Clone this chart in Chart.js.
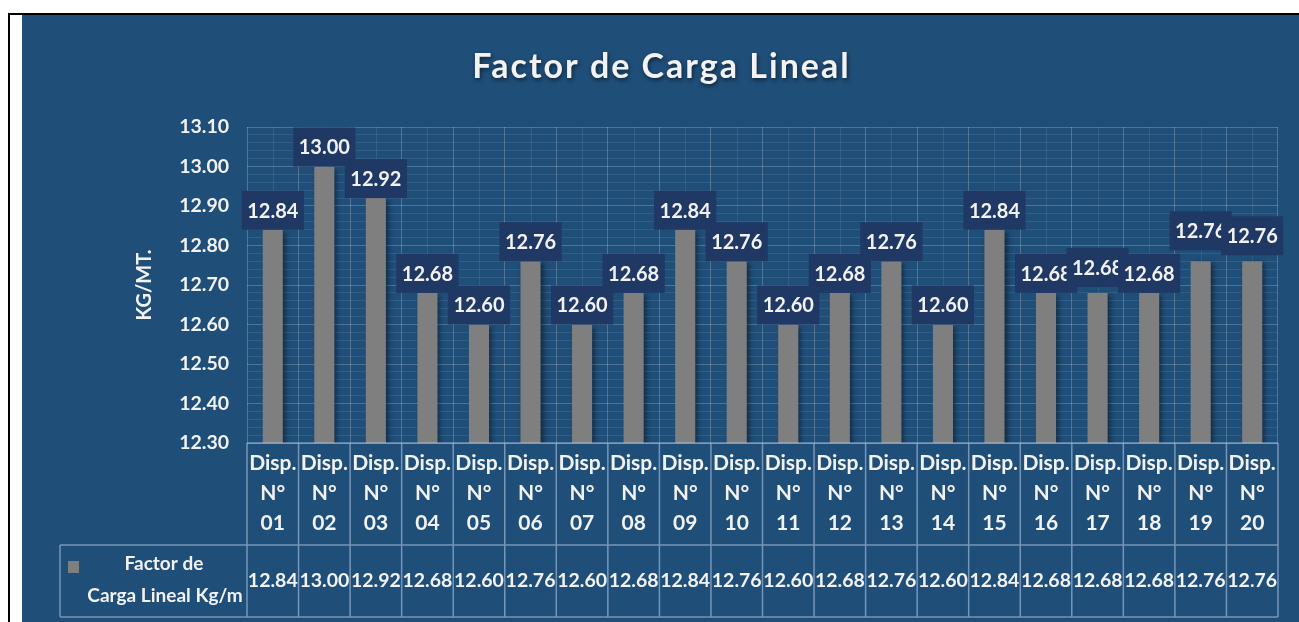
<!DOCTYPE html>
<html lang="es">
<head>
<meta charset="utf-8">
<title>Factor de Carga Lineal</title>
<script src="https://cdn.jsdelivr.net/npm/chart.js@4.4.1/dist/chart.umd.min.js"></script>
<style>
  html, body { margin: 0; padding: 0; background: #fff; width: 1299px; height: 622px; overflow: hidden; }
  .marco { position: absolute; left: 8px; top: 13px; width: 1300px; height: 620px;
           border-left: 2px solid #000; border-top: 2px solid #000; }
  .panel { position: absolute; left: 22px; top: 15px; width: 1277px; height: 607px; background: #1F4E79; }
  canvas { display: block; }
</style>
</head>
<body>
<div class="marco"></div>
<div class="panel"><canvas id="grafico" width="1277" height="607"></canvas></div>
<script>
// ── Datos ─────────────────────────────────────────────────────────────
const titulo     = "Factor de Carga Lineal";
const ejeY       = "KG/MT.";
const serieNom   = ["Factor de", "Carga Lineal Kg/m"];
const categorias = ["Disp. N° 01", "Disp. N° 02", "Disp. N° 03", "Disp. N° 04", "Disp. N° 05",
                    "Disp. N° 06", "Disp. N° 07", "Disp. N° 08", "Disp. N° 09", "Disp. N° 10",
                    "Disp. N° 11", "Disp. N° 12", "Disp. N° 13", "Disp. N° 14", "Disp. N° 15",
                    "Disp. N° 16", "Disp. N° 17", "Disp. N° 18", "Disp. N° 19", "Disp. N° 20"];
const factorCarga = [12.84, 13.00, 12.92, 12.68, 12.60, 12.76, 12.60, 12.68, 12.84, 12.76,
                     12.60, 12.68, 12.76, 12.60, 12.84, 12.68, 12.68, 12.68, 12.76, 12.76];
const Y_MIN = 12.30, Y_MAX = 13.10;

// ── Estilo ────────────────────────────────────────────────────────────
const C_TEXTO  = "#F2F2F2";
const C_BARRA  = "#7F7F7F";
const C_ETIQ   = "#1F3864";
const C_BORDE  = "rgba(190,210,235,0.55)";
const C_MAYOR  = "rgba(255,255,255,0.22)";
const C_MENOR  = "rgba(255,255,255,0.09)";
const FUENTE   = "Lato, 'Open Sans', sans-serif";
const desplazEtiq = { 16: -6, 18: -11, 19: -6 };  // etiquetas que Excel subió para no chocar

const esMayor = v => Math.round(v * 100) % 10 === 0;

// ── Plugin: título, sombras, etiquetas y tabla de datos ──────────────
const extras = {
  id: "extras",
  beforeDatasetsDraw(chart) {
    const { ctx, chartArea: a, scales: { x } } = chart;
    // líneas menores verticales en el centro de cada categoría
    ctx.save();
    ctx.strokeStyle = C_MENOR;
    ctx.lineWidth = 1;
    categorias.forEach((_, i) => {
      const px = Math.round(x.getPixelForValue(i)) + 0.5;
      ctx.beginPath(); ctx.moveTo(px, a.top); ctx.lineTo(px, a.bottom); ctx.stroke();
    });
    ctx.restore();
    ctx.save();
    ctx.shadowColor = "rgba(0,0,0,0.45)";
    ctx.shadowBlur = 5;
    ctx.shadowOffsetX = 3;
    ctx.shadowOffsetY = 2;
  },
  afterDatasetsDraw(chart) {
    const { ctx } = chart;
    ctx.restore();
    // etiquetas de datos en caja
    const meta = chart.getDatasetMeta(0);
    ctx.save();
    ctx.font = `bold 20px ${FUENTE}`;
    ctx.textAlign = "center";
    ctx.textBaseline = "middle";
    meta.data.forEach((bar, i) => {
      const txt = factorCarga[i].toFixed(2);
      const w = ctx.measureText(txt).width + 11;
      const h = 39;
      const bottom = bar.y + (desplazEtiq[i] || 0);
      ctx.fillStyle = C_ETIQ;
      ctx.fillRect(bar.x - w / 2, bottom - h, w, h);
      ctx.fillStyle = C_TEXTO;
      ctx.fillText(txt, bar.x, bottom - h / 2 + 1);
    });
    ctx.restore();
  },
  afterDraw(chart) {
    const { ctx, chartArea: a, scales: { x } } = chart;
    const n = categorias.length;
    const filaTop = x.bottom, filaBot = x.bottom + 72, izq = 38;

    ctx.save();
    // título
    ctx.font = `bold 34px ${FUENTE}`;
    ctx.letterSpacing = "2px";
    ctx.textAlign = "center";
    ctx.textBaseline = "middle";
    ctx.shadowColor = "rgba(0,0,0,0.55)";
    ctx.shadowBlur = 4;
    ctx.shadowOffsetX = 1;
    ctx.shadowOffsetY = 2;
    ctx.fillStyle = C_TEXTO;
    ctx.fillText(titulo, chart.width / 2 + 1, 52);
    ctx.restore();

    // tabla de datos
    ctx.save();
    ctx.strokeStyle = C_BORDE;
    ctx.lineWidth = 1.5;
    ctx.beginPath();
    for (let i = 0; i <= n; i++) {
      const px = x.getPixelForValue(i - 0.5);
      ctx.moveTo(px, a.bottom); ctx.lineTo(px, filaBot);
    }
    ctx.moveTo(a.left, a.bottom); ctx.lineTo(a.right, a.bottom);
    ctx.moveTo(izq, filaTop); ctx.lineTo(a.right, filaTop);
    ctx.moveTo(izq, filaBot); ctx.lineTo(a.right, filaBot);
    ctx.moveTo(izq, filaTop); ctx.lineTo(izq, filaBot);
    ctx.stroke();

    ctx.fillStyle = C_TEXTO;
    ctx.font = `bold 19.5px ${FUENTE}`;
    ctx.textAlign = "center";
    ctx.textBaseline = "middle";
    factorCarga.forEach((v, i) => {
      ctx.fillText(v.toFixed(2), x.getPixelForValue(i), (filaTop + filaBot) / 2);
    });

    // celda de leyenda
    ctx.fillStyle = C_BARRA;
    ctx.fillRect(izq + 8, filaTop + 16, 11, 12);
    ctx.fillStyle = C_TEXTO;
    ctx.font = `bold 19px ${FUENTE}`;
    ctx.fillText(serieNom[0], 142, filaTop + 19);
    ctx.fillText(serieNom[1], 143, filaTop + 51);
    ctx.restore();
  },
};

// ── Gráfico ───────────────────────────────────────────────────────────
new Chart(document.getElementById("grafico"), {
  type: "bar",
  data: {
    labels: categorias,
    datasets: [{
      label: serieNom.join(" "),
      data: factorCarga,
      backgroundColor: C_BARRA,
      borderWidth: 0,
      barPercentage: 0.39,
      categoryPercentage: 1,
    }],
  },
  options: {
    responsive: false,
    animation: false,
    devicePixelRatio: 1,
    layout: { padding: { top: 112, right: 21, bottom: 77, left: 107 } },
    plugins: { legend: { display: false }, tooltip: { enabled: false }, title: { display: false } },
    scales: {
      x: {
        offset: true,
        border: { display: false },
        grid: { offset: true, drawTicks: false, color: C_MAYOR },
        ticks: {
          autoSkip: false, maxRotation: 0, minRotation: 0, padding: 5, color: C_TEXTO,
          font: { family: FUENTE, size: 21, weight: "bold", lineHeight: "30px" },
          callback: (v, i) => categorias[i].split(" "),
        },
        afterFit: s => { s.height = 102; },
      },
      y: {
        min: Y_MIN, max: Y_MAX,
        border: { display: false },
        grid: { drawTicks: false, color: c => esMayor(c.tick.value) ? C_MAYOR : C_MENOR },
        ticks: {
          stepSize: 0.02, autoSkip: false, padding: 18, color: C_TEXTO,
          font: { family: FUENTE, size: 19.5, weight: "bold" },
          callback: v => esMayor(v) ? v.toFixed(2) : "",
        },
        title: { display: true, text: ejeY, color: C_TEXTO,
                 font: { family: FUENTE, size: 20, weight: "bold" } },
        afterFit: s => { s.width = 118; },
      },
    },
  },
  plugins: [extras],
});
</script>
</body>
</html>
